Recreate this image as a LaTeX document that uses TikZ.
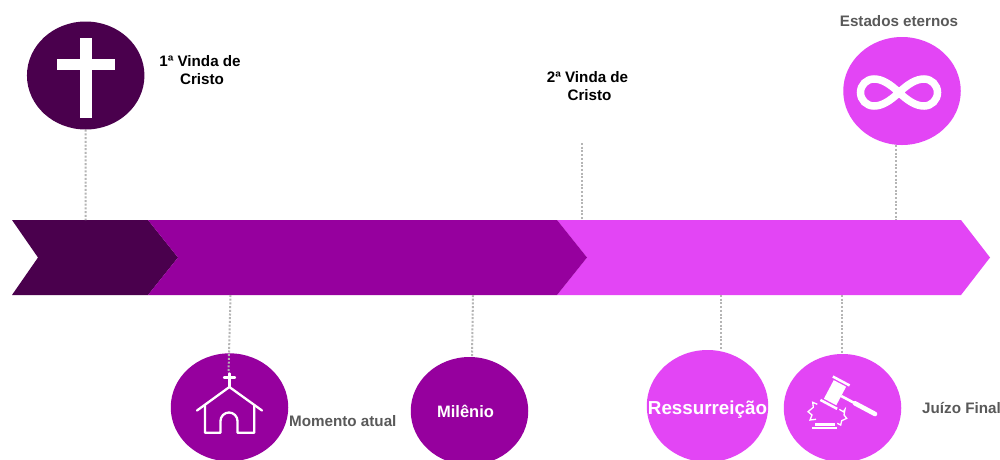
\documentclass[tikz,border=0pt]{standalone}
\usepackage{fontspec}
\setmainfont{Liberation Sans}
\usetikzlibrary{shapes.geometric}
\definecolor{darkp}{HTML}{4A004D}
\definecolor{midp}{HTML}{96009E}
\definecolor{lightp}{HTML}{E345F5}
\definecolor{greytxt}{HTML}{595959}
\definecolor{dotc}{HTML}{B5B5B5}
\tikzset{
  disc/.style={ellipse,inner sep=0pt,minimum width=#1},
  link/.style={draw=dotc,line width=2pt,dash pattern=on 2pt off 1.7pt},
  icon/.style={draw=white,line width=2.3pt,line cap=round,line join=round},
  spark/.style={draw=white,line width=1.3pt,line join=miter},
  lab/.style={font=\fontsize{15.2}{18}\bfseries\selectfont,align=center,inner sep=0pt},
}
\begin{document}
\begin{tikzpicture}[x=1pt,y=-1pt]
\useasboundingbox (0,0) rectangle (1000,459);
\clip (0,0) rectangle (1000,459);
\fill[white] (0,0) rectangle (1000,459);
% bands
\fill[darkp] (12,220) -- (148,220) -- (178,257.5) -- (148,295) -- (12,295) -- (38,257.5) -- cycle;
\fill[lightp] (557,220) -- (961,220) -- (990,257.5) -- (961,295) -- (557,295) -- (587,257.5) -- cycle;
\fill[midp] (148,220) -- (557,220) -- (587,257.5) -- (557,295) -- (148,295) -- (178,257.5) -- cycle;
% band anchor points
\coordinate (t1) at (85.5,220);
\coordinate (t2) at (581.5,220);
\coordinate (t2top) at (581.5,143);
\coordinate (t3) at (896,220);
\coordinate (b1) at (230.5,295);
\coordinate (b1end) at (228.5,373);
\coordinate (b2) at (473,295);
\coordinate (b2end) at (472,357);
\coordinate (b3) at (721,295);
\coordinate (b4) at (841.5,295);
% discs
\node[disc=117.5pt,minimum height=108pt,fill=darkp] (cruz) at (85.7,75.5) {};
\node[disc=117.5pt,minimum height=108pt,fill=lightp] (inf) at (902,91) {};
\node[disc=117.5pt,minimum height=108pt,fill=midp] (igreja) at (229.5,407.3) {};
\node[disc=117.5pt,minimum height=108pt,fill=midp] (mil) at (469.5,411) {};
\node[disc=121.5pt,minimum height=112pt,fill=lightp] (res) at (707.5,406) {};
\node[disc=117.5pt,minimum height=108pt,fill=lightp] (juizo) at (842.5,408) {};
% connectors
\draw[link] (cruz.south) -- (t1);
\draw[link] (t2top) -- (t2);
\draw[link] (inf.south -| t3) -- (t3);
\draw[link] (b1) -- (b1end);
\draw[link] (b2) -- (b2end);
\draw[link] (b3) -- (res.north -| b3);
\draw[link] (b4) -- (juizo.north -| b4);
% cross icon
\fill[white] (80,37.7) rectangle (91.7,118.3);
\fill[white] (56.7,59.3) rectangle (114.7,69.7);
% infinity icon
\draw[white,line width=7.5pt]
  (899,92.5) .. controls (890,84) and (882,79) .. (874,79)
  .. controls (866.5,79) and (860.5,85) .. (860.5,92.5)
  .. controls (860.5,100) and (866.5,106) .. (874,106)
  .. controls (882,106) and (890,101) .. (899,92.5)
  .. controls (908,84) and (916,79) .. (924,79)
  .. controls (931.5,79) and (937.5,85) .. (937.5,92.5)
  .. controls (937.5,100) and (931.5,106) .. (924,106)
  .. controls (916,106) and (908,101) .. (899,92.5) -- cycle;
% church icon
\draw[icon] (224,377.5) -- (235,377.5) (229.4,373.5) -- (229.4,387);
\draw[icon] (197,410.5) -- (229.4,387) -- (262,410.5);
\draw[icon] (205,405) -- (205,432.7) -- (220.5,432.7) -- (220.5,421)
  arc[start angle=180,end angle=360,x radius=8.5,y radius=8.5] -- (237.5,432.7) -- (254.3,432.7) -- (254.3,405);
% gavel icon
\begin{scope}[shift={(835,392.7)},rotate=-28]
  \fill[white] (-7,-10.5) rectangle (7,10.5);
  \fill[white] (-9.5,-14.5) rectangle (9.5,-12);
  \fill[white] (-9.5,12) rectangle (9.5,14.5);
  \fill[white] (7,-1.3) rectangle (22,1.3);
  \fill[white,rounded corners=2pt] (20.5,-2.3) rectangle (47.5,2.3);
\end{scope}
\fill[white] (815,423.3) rectangle (835,425.5);
\fill[white] (811.7,427.3) rectangle (836.7,428.7);
\draw[spark] (817.3,404.3) -- (812.7,402.3) -- (813.3,407.3) -- (808,411.7) -- (812,415) -- (810,420) -- (816,419.3);
\draw[spark] (839.3,409.3) -- (843.3,411.7) -- (845,409.3) -- (844,415) -- (846.7,418.3) -- (841.7,420.7) -- (840.7,425) -- (837.3,423.3);
% labels
\node[lab] (l1) at (200,70.5) {1ª Vinda de\\\hspace*{4pt}Cristo};
\node[lab] (l2) at (587.5,86) {2ª Vinda de\\\hspace*{4pt}Cristo};
\node[lab,text=greytxt] (l3) at (899,21.5) {Estados eternos};
\node[lab,text=greytxt,anchor=west] (l4) at (289,421) {Momento atual};
\node[lab,text=greytxt,anchor=west] (l5) at (922,408) {Juízo Final};
\node[lab,text=white,font=\fontsize{16.5}{18}\bfseries\selectfont] (l6) at (465.5,411) {Milênio};
\node[lab,text=white,font=\fontsize{18.8}{20}\bfseries\selectfont] (l7) at (707.5,410) {Ressurreição};
\end{tikzpicture}
\end{document}
